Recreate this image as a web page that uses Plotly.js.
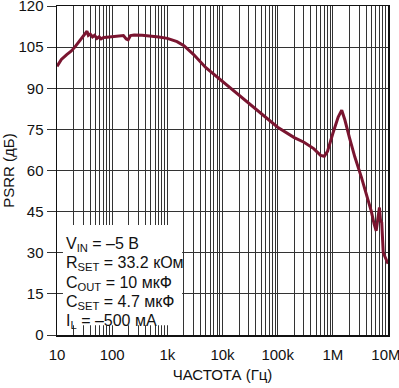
<!DOCTYPE html>
<html>
<head>
<meta charset="utf-8">
<script src="https://cdn.plot.ly/plotly-3.0.1.min.js"></script>
<style>html,body{margin:0;padding:0;background:#fff;}#chart{width:399px;height:388px;}</style>
</head>
<body>
<div id="chart"></div>
<script>
// Frequency (Hz) and PSRR (dB)
const freqHz = [10, 12, 15, 18, 21, 25, 28, 31, 35, 37, 40, 44, 48, 53, 58, 63, 70, 80, 100, 130, 160, 180, 195, 215, 250, 350, 500, 700, 1000, 1500, 2000, 3000, 5000, 10000, 20000, 50000, 100000, 200000, 300000, 450000, 600000, 700000, 800000, 1000000, 1250000, 1450000, 1650000, 2000000, 2500000, 3300000, 4000000, 5000000, 5600000, 6100000, 6500000, 7000000, 7300000, 7700000, 8200000, 9000000, 10000000];
const psrrDb = [98, 100.5, 102.3, 103.5, 105, 107, 108.3, 109.5, 110.8, 109.3, 109.8, 108.7, 109.3, 108.2, 108.8, 108.0, 108.5, 108.6, 108.8, 109.0, 109.2, 108.0, 107.7, 109.2, 109.4, 109.3, 109.1, 108.7, 108.2, 107, 105.5, 102.3, 97.5, 92.5, 87.5, 81, 75.8, 72, 70.3, 68, 65.5, 65.2, 67, 73.5, 79.5, 82, 78.5, 72, 65, 57.5, 52, 45, 40.5, 38, 42, 46.5, 42, 41, 30, 28, 26];

const decadeVals = [10, 100, 1000, 10000, 100000, 1000000, 10000000];
const decadeLabels = ["10", "100", "1k", "10k", "100k", "1M", "10M\u00a0"];
const yTicks = [0, 15, 30, 45, 60, 75, 90, 105, 120];

const conditionLines = [
  "V<sub>IN</sub> = –5 В",
  "R<sub>SET</sub> = 33.2 кОм",
  "C<sub>OUT</sub> = 10 мкФ",
  "C<sub>SET</sub> = 4.7 мкФ",
  "I<sub>L</sub> = –500 мА"
];

// build tick list: every 1..9 multiple, label only decades
const xTickVals = [], xTickText = [];
for (let d = 0; d < decadeVals.length; d++) {
  const base = decadeVals[d];
  for (let m = 1; m <= 9; m++) {
    if (d === decadeVals.length - 1 && m > 1) break;
    xTickVals.push(base * m);
    xTickText.push(m === 1 ? decadeLabels[d] : "");
  }
}

const FONT = "Liberation Sans, Arial, sans-serif";

const trace = {
  x: freqHz, y: psrrDb, type: "scatter", mode: "lines",
  line: {color: "#7a1530", width: 3},
  hoverinfo: "skip"
};

const annotations = conditionLines.map((t, i) => ({
  xref: "paper", yref: "paper", x: 0.022, y: 0.276 - i * 0.059,
  xanchor: "left", yanchor: "middle", showarrow: false,
  text: t, font: {family: FONT, size: 16, color: "#111"}
}));

const layout = {
  width: 399, height: 388,
  margin: {l: 57, r: 11, t: 6, b: 53},
  paper_bgcolor: "#fff", plot_bgcolor: "#fff",
  showlegend: false,
  font: {family: FONT, size: 15, color: "#111"},
  xaxis: {
    type: "log", range: [1, 7],
    tickmode: "array", tickvals: xTickVals, ticktext: xTickText,
    showgrid: true, gridcolor: "#333", gridwidth: 1,
    showline: true, linecolor: "#111", linewidth: 1.5, mirror: true,
    ticks: "", ticklabelstandoff: 5, ticklabeloverflow: "allow",
    tickfont: {family: FONT, size: 15, color: "#111"},
    title: {text: "ЧАСТОТА (Гц)", font: {family: FONT, size: 15, color: "#111"}, standoff: 8},
    zeroline: false
  },
  yaxis: {
    range: [0, 120], tickmode: "array", tickvals: yTicks,
    showgrid: true, gridcolor: "#333", gridwidth: 1,
    showline: true, linecolor: "#111", linewidth: 1.5, mirror: true,
    ticks: "outside", ticklen: 9, tickcolor: "#333", tickwidth: 1,
    ticklabeloverflow: "allow",
    tickfont: {family: FONT, size: 15, color: "#111"},
    title: {text: "PSRR (дБ)", font: {family: FONT, size: 15, color: "#111"}, standoff: 6},
    zeroline: false
  },
  shapes: [{
    type: "rect", xref: "paper", yref: "paper",
    x0: 0.018, x1: 0.378, y0: 0.03, y1: 0.334,
    fillcolor: "#fff", line: {width: 0}, layer: "above"
  }],
  annotations: annotations
};

Plotly.newPlot("chart", [trace], layout, {staticPlot: true, displayModeBar: false});
</script>
</body>
</html>
